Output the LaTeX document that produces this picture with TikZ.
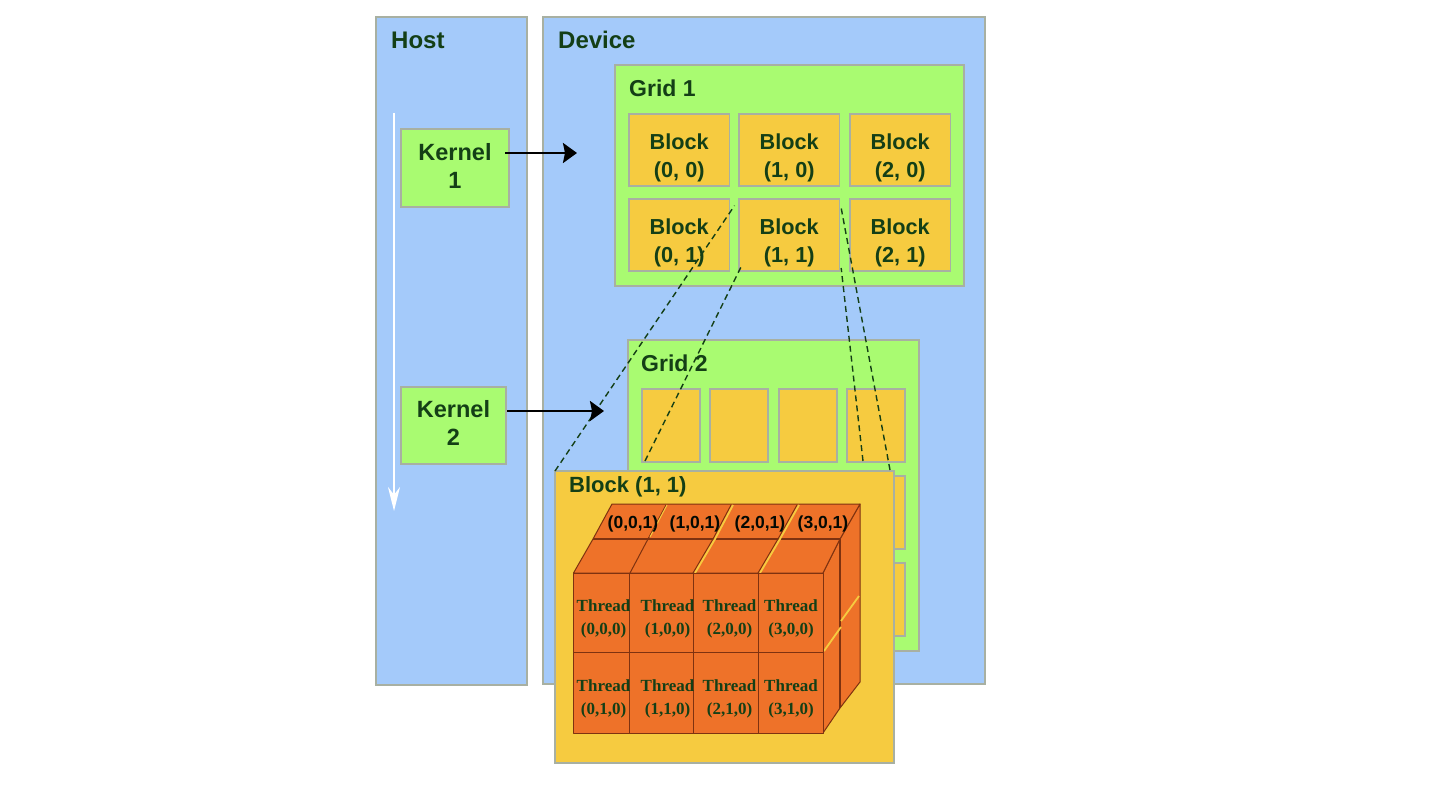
\documentclass[tikz,border=0pt]{standalone}
\usepackage{fontspec}
\setmainfont{Liberation Sans}
\newfontfamily\threadfont{Liberation Serif}
\usetikzlibrary{arrows.meta,calc}
\definecolor{panelblue}{HTML}{A4CAFA}
\definecolor{gridgreen}{HTML}{A9FB71}
\definecolor{blockgold}{HTML}{F6CB40}
\definecolor{threadorange}{HTML}{EE7229}
\definecolor{inkgreen}{HTML}{143F16}
\definecolor{edgegrey}{HTML}{A8B0A2}
\definecolor{cubeline}{HTML}{7E3210}
% Vertical placement of two-line captions inside their boxes
\newcommand{\lowercaption}{\rule{0pt}{32pt}}
\newcommand{\raisecaption}[1]{\rule[-#1]{0pt}{#1}}
\tikzset{
  panel/.style={draw=edgegrey,line width=1.3pt,anchor=north west,inner sep=0pt,outer sep=0pt},
  hostdev/.style={panel,fill=panelblue},
  gridbox/.style={panel,fill=gridgreen},
  blockbox/.style={panel,fill=blockgold,text=inkgreen,align=center,font=\fontsize{21.7}{28}\selectfont\bfseries},
  kernelbox/.style={panel,fill=gridgreen,text=inkgreen,align=center,font=\fontsize{23.5}{28}\selectfont\bfseries},
  title/.style={anchor=west,text=inkgreen,inner sep=0pt,font=\fontsize{24}{28}\selectfont\bfseries},
  gridtitle/.style={title,font=\fontsize{23}{28}\selectfont\bfseries},
  bigtitle/.style={title,font=\fontsize{22}{28}\selectfont\bfseries},
  threadlabel/.style={text=inkgreen,align=center,inner sep=0pt,font=\threadfont\fontsize{17}{23}\selectfont\bfseries},
  toplabel/.style={text=black!85!inkgreen,inner sep=0pt,font=\fontsize{17.5}{20}\selectfont\bfseries},
  face/.style={fill=threadorange,draw=cubeline,line width=1pt,line join=round},
  slit/.style={draw=blockgold,line width=1.8pt},
  zoomline/.style={draw=inkgreen,line width=1.4pt,dash pattern=on 6pt off 4pt},
  callarrow/.style={draw=black,line width=2.4pt,-{Stealth[length=14pt,width=20pt,inset=2pt]}},
  timeline/.style={draw=white,line width=2pt,-{Stealth[length=24pt,width=12pt]}}
}
\begin{document}
\begin{tikzpicture}[x=1pt,y=-1pt]
\useasboundingbox (0,0) rectangle (1440,786);
\fill[white] (0,0) rectangle (1440,786);

% Host and device panels
\node[hostdev,minimum width=151pt,minimum height=668pt] (host) at (376,17) {};
\node[hostdev,minimum width=442pt,minimum height=667pt] (device) at (543,17) {};
\node[title] (hosttitle) at (391,40) {Host};
\node[title] (devicetitle) at (558,40) {Device};

% Time axis on the host
\coordinate (timestart) at (394,113);
\coordinate (timeend) at (394,511);
\draw[timeline] (timestart) -- (timeend);

% Kernels
\node[kernelbox,minimum width=108pt,minimum height=78pt] (k1) at (401,129) {Kernel\\1\raisecaption{5pt}};
\node[kernelbox,minimum width=105pt,minimum height=77pt] (k2) at (401,387) {Kernel\\2\raisecaption{6pt}};

% Grid 1
\node[gridbox,minimum width=349pt,minimum height=221pt] (grid1) at (615,65) {};
\node[gridtitle] (grid1title) at (629,88) {Grid 1};
\foreach \nm/\px/\py/\txt in {a00/629/114/{(0, 0)},a10/739/114/{(1, 0)},a20/850/114/{(2, 0)},
                              a01/629/199/{(0, 1)},b11/739/199/{(1, 1)},a21/850/199/{(2, 1)}}
  \node[blockbox,minimum width=100.5pt,minimum height=72pt] (\nm) at (\px,\py) {\lowercaption Block\\\txt};

% Grid 2
\node[gridbox,minimum width=291pt,minimum height=311pt] (grid2) at (628,340) {};
\node[gridtitle] (grid2title) at (641,363) {Grid 2};
\foreach \px/\col in {642/0,710/1,779/2,847/3}
  \foreach \py/\row in {389/0,476/1,563/2}
    \node[blockbox,minimum width=58pt,minimum height=73pt] (g\col\row) at (\px,\py) {};

% Enlarged block
\node[panel,fill=blockgold,minimum width=339pt,minimum height=292pt] (big) at (555,471) {};
\node[bigtitle] (bigtitle) at (569,487) {Block (1, 1)};

% Dashed projection from block (1,1) to its enlargement
\coordinate (bigA) at (645,461);
\coordinate (bigB) at (863,461);
\coordinate (bigC) at (890,470);
\coordinate (b11se) at ($(b11.south east)+(2,0)$);
\draw[zoomline,shorten >=8pt] (big.north west) -- (b11.north west);
\draw[zoomline,shorten >=-4pt] (bigA) -- (b11.south west);
\draw[zoomline,shorten >=9pt] (bigC) -- (b11.north east);
\draw[zoomline,shorten >=-3pt] (bigB) -- (b11se);

% Host-to-device calls
\coordinate (k1out) at (505,153);
\coordinate (k1in) at (577,153);
\coordinate (k2out) at (507,411);
\coordinate (k2in) at (604,411);
\draw[callarrow] (k1out) -- (k1in);
\draw[callarrow] (k2out) -- (k2in);

% Thread cube: right faces
\filldraw[face] (823,573) -- (840,539) -- (860,504) -- (860,682) -- (840,708) -- (823,733) -- cycle;
\draw[cubeline,line width=1.2pt] (840,539) -- (840,708);
\draw[slit] (824,651) -- (841,627);
\draw[slit] (841,621) -- (859,596);

% Thread cube: top faces
\filldraw[face] (573.5,573) -- (593,539) -- (612,504) -- (860,504) -- (840,539) -- (823,573) -- cycle;
\draw[cubeline,line width=1.2pt] (593,539) -- (840,539);
\draw[cubeline,line width=1pt] (630,573) -- (648,539) -- (666,505);
\draw[cubeline,line width=1pt] (693,573) -- (713,539) -- (731,505);
\draw[cubeline,line width=1pt] (758,573) -- (778,539) -- (797,505);
\draw[slit,line width=1pt] (650,537) -- (667,505);
\draw[slit] (695,573) -- (715,539) -- (733,505);
\draw[slit] (760,573) -- (780,539) -- (799,505);

% Thread cube: front face
\filldraw[face] (573.5,573) rectangle (823,733);
\foreach \px in {629.5,693,758}
  \draw[cubeline,line width=0.9pt] (\px,573) -- (\px,733);
\draw[cubeline,line width=0.9pt] (573.5,652.5) -- (823,652.5);

% Thread labels
\node[toplabel] (t001) at (633,524) {(0,0,1)};
\node[toplabel] (t101) at (695,524) {(1,0,1)};
\node[toplabel] (t201) at (760,524) {(2,0,1)};
\node[toplabel] (t301) at (823,524) {(3,0,1)};
\foreach \nm/\px/\xa in {0/603.5/0,1/667.5/1,2/729.5/2,3/791/3}
  \node[threadlabel] (th\nm0) at (\px,619) {Thread\\(\xa,0,0)};
\foreach \nm/\px/\xa in {0/603.5/0,1/667.5/1,2/729.5/2,3/791/3}
  \node[threadlabel] (th\nm1) at (\px,699) {Thread\\(\xa,1,0)};
\end{tikzpicture}
\end{document}
